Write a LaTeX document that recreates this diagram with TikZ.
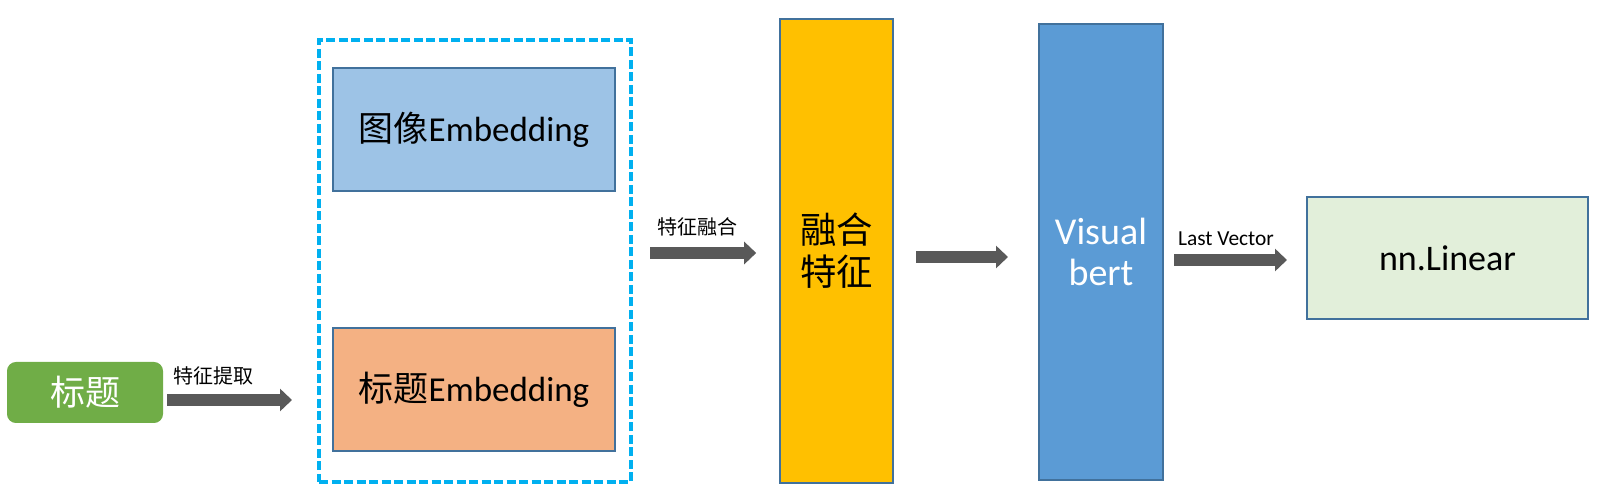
\documentclass[tikz,border=0pt]{standalone}
\usepackage{fontspec}
\setmainfont{Carlito}
\newfontfamily\cjk{Noto Sans CJK SC}
\usetikzlibrary{arrows.meta,calc}
\definecolor{bordblue}{HTML}{41719C}
\definecolor{titlegreen}{HTML}{70AD47}
\definecolor{imgblue}{HTML}{9DC3E6}
\definecolor{titleorange}{HTML}{F4B183}
\definecolor{fusegold}{HTML}{FFC000}
\definecolor{bertblue}{HTML}{5B9BD5}
\definecolor{lineargreen}{HTML}{E2EFDA}
\definecolor{framecyan}{HTML}{00B0F0}
\definecolor{arrowgray}{HTML}{595959}
\tikzset{
  box/.style={draw=bordblue, line width=1pt, inner sep=0pt, align=center},
  bigarrow/.style={draw=arrowgray, line width=6pt, -{Triangle[length=6pt,width=11pt]}},
  lbl/.style={inner sep=0pt, font=\cjk\fontsize{10}{11}\selectfont}
}
\begin{document}
\begin{tikzpicture}[x=0.5pt,y=-0.5pt]
            \useasboundingbox (0,0) rectangle (1602,501);
            \node[box, fill=titlegreen, draw=titlegreen, rounded corners=4pt, minimum width=77pt, minimum height=29.5pt,
                  text=white, font=\cjk\fontsize{17.5}{19}\selectfont] (title) at (85,392.5) {标题};
            \node[draw=framecyan, line width=2.2pt, dash pattern=on 4.5pt off 1.75pt, minimum width=156pt, minimum height=221pt] (frame) at (475,261) {};
            \node[box, fill=imgblue, minimum width=141pt, minimum height=61.5pt, font=\fontsize{17.5}{20}\selectfont] (imgemb) at (474,129.5) {{\cjk 图像}Embedding};
            \node[box, fill=titleorange, minimum width=141pt, minimum height=61.5pt, font=\fontsize{17.5}{20}\selectfont] (titleemb) at (474,389.5) {{\cjk 标题}Embedding};
            \node[box, fill=fusegold, minimum width=56.5pt, minimum height=232pt, font=\cjk\fontsize{18.2}{21}\selectfont] (fuse) at (836.5,251) {融合\\特征};
            \node[box, fill=bertblue, minimum width=62pt, minimum height=228pt, text=white, font=\fontsize{19}{20.5}\selectfont] (vbert) at (1101,251.75) {Visual\\bert};
            \node[box, fill=lineargreen, minimum width=140.5pt, minimum height=61pt, font=\fontsize{18}{20}\selectfont] (linear) at (1447.5,258) {nn.Linear};
            \draw[bigarrow] ($(title.east)+(4,7.5)$) -- ++(125,0) node[lbl, pos=0.37, above=4.5pt] {特征提取};
            \draw[bigarrow] ($(frame.east)+(17,-8)$) -- ++(106,0) node[lbl, pos=0.45, above=5.5pt] {特征融合};
            \draw[bigarrow] ($(fuse.east)+(22,6)$) -- ++(92,0);
            \draw[bigarrow] ($(vbert.east)+(10,8.25)$) -- ++(113,0) node[lbl, pos=0.46, above=4pt, font=\fontsize{10.7}{12}\selectfont] {Last Vector};
        \end{tikzpicture}
\end{document}
